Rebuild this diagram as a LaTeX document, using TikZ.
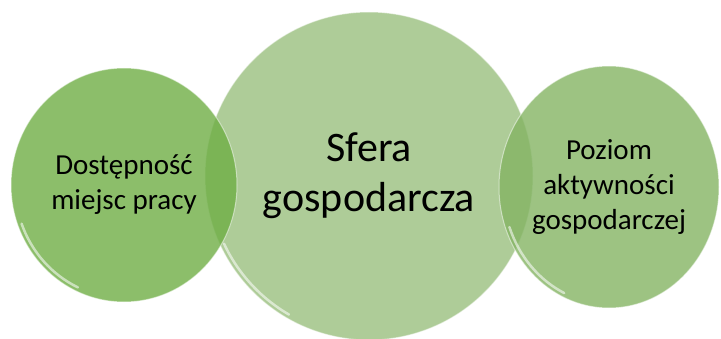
\documentclass[tikz,border=0pt]{standalone}
\usepackage{fontspec}
\setmainfont{Carlito}
\usetikzlibrary{shapes.geometric, positioning, calc}
\definecolor{sidegreen}{RGB}{111,174,69}
\definecolor{rightgreen}{RGB}{132,180,99}
\definecolor{midgreen}{RGB}{174,204,152}

\begin{document}
\begin{tikzpicture}[x=1pt, y=1pt,
    bubble/.style={ellipse, 
      inner sep=0pt, 
      align=center, 
      text=black, 
      draw=white, 
      draw opacity=0.5, 
      line width=1pt},
    sidetext/.style={font=\fontsize{29}{35}\selectfont},
    gloss/.style={white, line width=2.5pt, opacity=0.55, line cap=round}]
  \useasboundingbox (0,0) rectangle (721,338);

  \node [bubble, 
    fill=midgreen, 
    minimum width=328pt, 
    minimum height=328pt, 
    font=\fontsize{42}{50}\selectfont] (sfera) at (369,162) {Sfera\\gospodarcza};

  \node [bubble, sidetext, 
    fill=sidegreen, 
    fill opacity=0.8, 
    text opacity=1, 
    minimum width=226pt, 
    minimum height=234pt] (miejsca) at (124,153) {Dostępność\\miejsc pracy};

  \node [bubble, sidetext, 
    fill=rightgreen, 
    fill opacity=0.8, 
    text opacity=1, 
    minimum width=220pt, 
    minimum height=242pt] (aktywnosc) at (609,151) {Poziom\\aktywności\\gospodarczej};


% HIGHLIGHTS

  \draw[gloss] ($(sfera.center) + (205:160pt and 160pt)$) 
  arc[start angle=205, end angle=240, x radius=160pt, y radius=160pt];

  \draw[gloss] ($(miejsca.center) + (200:109pt and 113pt)$) 
  arc[start angle=200, end angle=245, x radius=109pt, y radius=113pt];

  \draw[gloss] ($(aktywnosc.center) + (200:106pt and 117pt)$) 
  arc[start angle=200, end angle=245, x radius=106pt, y radius=117pt];

\end{tikzpicture}
\end{document}
